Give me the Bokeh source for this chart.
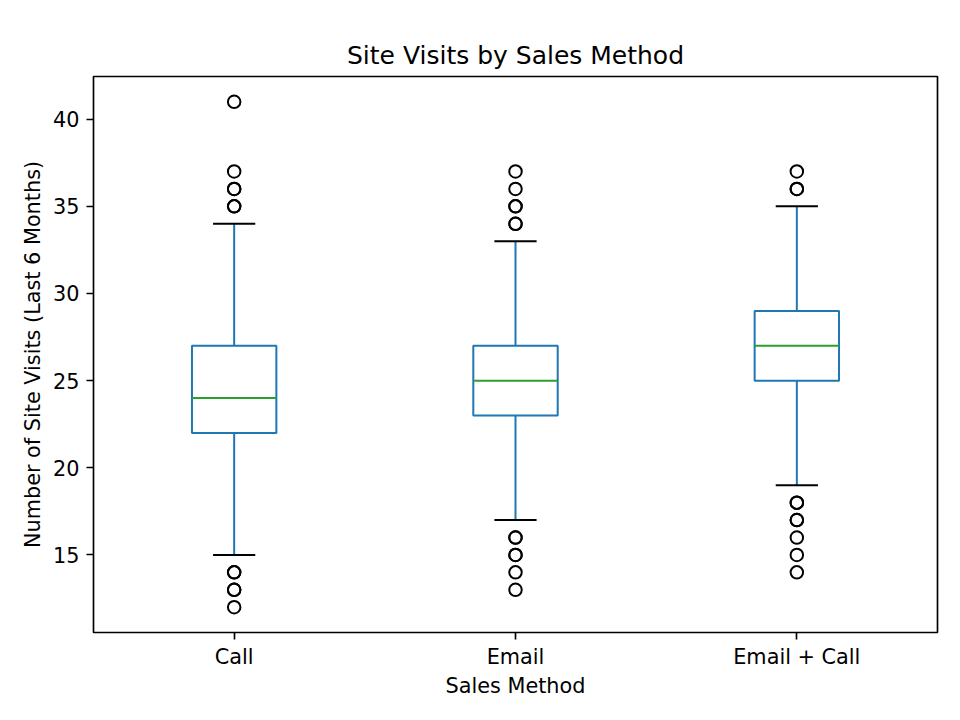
from bokeh.plotting import figure
from bokeh.models import FixedTicker, Range1d
from bokeh.embed import file_html
from bokeh.resources import INLINE

categories = ["Call", "Email", "Email + Call"]
q1 = [22, 23, 25]
median = [24, 25, 27]
q3 = [27, 27, 29]
whisker_low = [15, 17, 19]
whisker_high = [34, 33, 35]
# outlier values (repeated values are overplotted, as in the reference)
outliers = [
    [35, 35, 36, 36, 37, 41, 14, 14, 13, 13, 12],
    [34, 34, 35, 35, 36, 37, 16, 16, 15, 15, 14, 13],
    [36, 36, 37, 18, 18, 17, 17, 16, 15, 14],
]

BLUE = "#1f77b4"
GREEN = "#2ca02c"
FONT = "DejaVu Sans"

pos = [i + 1 for i in range(len(categories))]
box_w = 0.3
cap_w = 0.15

p = figure(width=960, height=720, output_backend="svg", toolbar_location=None,
           x_range=Range1d(0.5, 3.5), y_range=Range1d(10.55, 42.45),
           title="Site Visits by Sales Method",
           min_border_left=93, min_border_right=23, min_border_top=76, min_border_bottom=88)

p.grid.visible = False
p.outline_line_color = "black"
p.outline_line_width = 1.67
p.background_fill_color = "white"
p.border_fill_color = "white"

p.title.text_font = FONT
p.title.text_font_size = "25px"
p.title.text_font_style = "normal"
p.title.align = "center"
p.title.text_color = "black"
p.title.standoff = 13

# whiskers
p.segment(x0=pos, y0=q3, x1=pos, y1=whisker_high, line_color=BLUE, line_width=2)
p.segment(x0=pos, y0=q1, x1=pos, y1=whisker_low, line_color=BLUE, line_width=2)
# caps
p.segment(x0=[x - cap_w / 2 for x in pos], y0=whisker_high, x1=[x + cap_w / 2 for x in pos], y1=whisker_high,
          line_color="black", line_width=2)
p.segment(x0=[x - cap_w / 2 for x in pos], y0=whisker_low, x1=[x + cap_w / 2 for x in pos], y1=whisker_low,
          line_color="black", line_width=2)
# boxes
p.quad(left=[x - box_w / 2 for x in pos], right=[x + box_w / 2 for x in pos], bottom=q1, top=q3,
       fill_color=None, line_color=BLUE, line_width=2)
# medians
p.segment(x0=[x - box_w / 2 for x in pos], y0=median, x1=[x + box_w / 2 for x in pos], y1=median,
          line_color=GREEN, line_width=2)
# outliers
ox, oy = [], []
for x, vals in zip(pos, outliers):
    for v in vals:
        ox.append(x)
        oy.append(v)
p.scatter(ox, oy, marker="circle", size=12.5, fill_color=None, line_color="black", line_width=2)

p.xaxis.ticker = FixedTicker(ticks=pos)
p.xaxis.major_label_overrides = {x: c for x, c in zip(pos, categories)}
p.yaxis.ticker = FixedTicker(ticks=[15, 20, 25, 30, 35, 40])

p.xaxis.axis_label = "Sales Method"
p.yaxis.axis_label = "Number of Site Visits (Last 6 Months)"

for ax in (p.xaxis[0], p.yaxis[0]):
    ax.axis_line_color = None
    ax.major_tick_line_color = "black"
    ax.major_tick_line_width = 1.67
    ax.major_tick_out = 7
    ax.major_tick_in = 0
    ax.minor_tick_line_color = None
    ax.major_label_text_font = FONT
    ax.major_label_text_font_size = "20.8px"
    ax.major_label_text_color = "black"
    ax.major_label_standoff = 7
    ax.axis_label_text_font = FONT
    ax.axis_label_text_font_size = "20.8px"
    ax.axis_label_text_font_style = "normal"
    ax.axis_label_text_color = "black"

p.xaxis.major_label_standoff = 5
p.xaxis.axis_label_standoff = 2
p.yaxis.axis_label_standoff = 5

open("out.html", "w").write(file_html(p, INLINE))
